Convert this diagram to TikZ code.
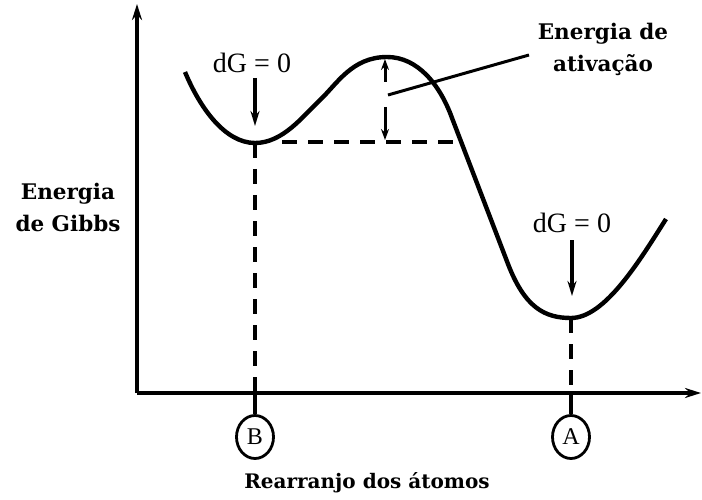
\documentclass[tikz,border=0pt]{standalone}
\usepackage{fontspec}
\setmainfont{Liberation Serif}
\newfontfamily\labfont{DejaVu Serif}
\usetikzlibrary{arrows.meta,shapes.geometric}
\tikzset{
  axis/.style={line width=3.6pt, -{Stealth[length=16pt,width=10pt]}},
  curve/.style={line width=4.4pt},
  dashline/.style={line width=3.8pt, dash pattern=on 15pt off 11pt},
  solidline/.style={line width=3.4pt},
  downarrow/.style={line width=3.4pt, -{Stealth[length=15pt,width=9pt]}},
  smallarrow/.style={line width=3pt, -{Stealth[length=11pt,width=8pt]}},
  lab/.style={font=\labfont\bfseries\fontsize{21.5}{32}\selectfont, align=center, inner sep=0pt},
  dg/.style={font=\fontsize{28}{30}\selectfont, inner sep=0pt},
  circ/.style={draw, line width=2.8pt, ellipse, minimum width=37pt, minimum height=43pt, inner sep=0pt, font=\fontsize{24}{26}\selectfont},
}
\begin{document}
\begin{tikzpicture}[x=1pt,y=-1pt]
\useasboundingbox (0,0) rectangle (702,500);
% axes
\coordinate (O) at (137,393);
\coordinate (ytop) at (137,4);
\coordinate (xend) at (701,393);
\draw[axis] (O) -- (ytop);
\draw[axis] (O) -- (xend);
% curve
\draw[curve] (185,72) .. controls (200,108) and (225,143) .. (255,143)
  .. controls (283,143) and (303,116) .. (320,100)
  .. controls (337,84) and (352,57) .. (387,57)
  .. controls (418,57) and (440,85) .. (452,118)
  -- (508,264)
  .. controls (525,308) and (545,318) .. (571,318)
  .. controls (605,318) and (640,260) .. (666,219);
% minima points
\coordinate (minB) at (255,143);
\coordinate (minA) at (571,318);
\coordinate (axB) at (255,393);
\coordinate (axA) at (571,393);
% dashed lines
\draw[dashline] (282,142) -- (454,142);
\draw[dashline] (minB) -- (axB);
\draw[dashline] (minA) -- (axA);
% circles
\node[circ] (B) at (255,437) {B};
\node[circ] (A) at (571,437) {A};
\draw[solidline] (axB) -- (B.north);
\draw[solidline] (axA) -- (A.north);
% dG labels
\node[dg] (dg1) at (252,63) {dG = 0};
\node[dg] (dg2) at (572,223) {dG = 0};
\coordinate (a1s) at (255,78);
\coordinate (a1e) at (255,126);
\coordinate (a2s) at (572,240);
\coordinate (a2e) at (572,296);
\draw[downarrow] (a1s) -- (a1e);
\draw[downarrow] (a2s) -- (a2e);
% activation energy arrows
\coordinate (up1) at (385,82);
\coordinate (up2) at (385,59);
\coordinate (dn1) at (385,107);
\coordinate (dn2) at (385,140);
\draw[smallarrow] (up1) -- (up2);
\draw[smallarrow] (dn1) -- (dn2);
% labels
\node[lab] (act) at (603,49) {Energia de\\ativação};
\coordinate (leadS) at (388,95);
\coordinate (leadE) at (529,55);
\draw[line width=3pt] (leadS) -- (leadE);
\node[lab] (gibbs) at (68,207) {Energia\\de Gibbs};
\node[lab, font=\labfont\bfseries\fontsize{20}{26}\selectfont] (xl) at (367,483) {Rearranjo dos átomos};
\end{tikzpicture}
\end{document}
